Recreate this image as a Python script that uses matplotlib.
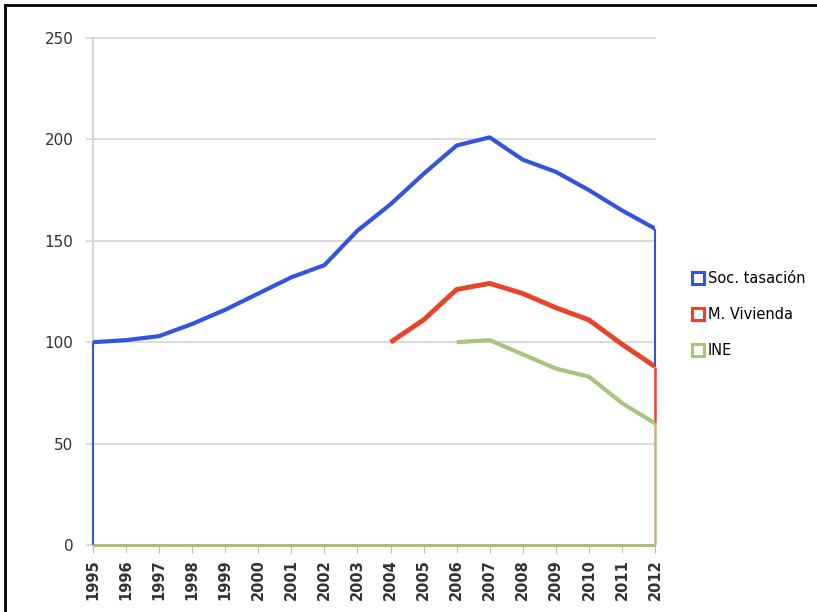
import matplotlib.pyplot as plt
from matplotlib.lines import Line2D

# datos
years = list(range(1995, 2013))
soc_tasacion = [100, 101, 103, 109, 116, 124, 132, 138, 155, 168, 183, 197, 201, 190, 184, 175, 165, 156]
m_vivienda_years = list(range(2004, 2013))
m_vivienda = [100, 111, 126, 129, 124, 117, 111, 99, 88]
ine_years = list(range(2006, 2013))
ine = [100, 101, 94, 87, 83, 70, 60]

etiquetas = ['Soc. tasación', 'M. Vivienda', 'INE']
colores = ['#3355dd', '#e8442a', '#a9c47c']
yticks = [0, 50, 100, 150, 200, 250]

fig = plt.figure(figsize=(8.17, 6.12), dpi=100)
ax = fig.add_axes([93 / 817, 1 - 545 / 612, (655 - 93) / 817, (545 - 38) / 612])

# rejilla y ejes
for v in yticks:
    ax.axhline(v, color='#d8d8d8', lw=1.3, zorder=0, clip_on=False, xmin=-0.01)
for s in ['top', 'right', 'bottom']:
    ax.spines[s].set_visible(False)
ax.spines['left'].set_color('#d0d0d0')
ax.spines['left'].set_linewidth(1.3)
ax.spines['left'].set_zorder(1)

# contornos finos (bordes a cero)
ax.vlines(years[0], 0, soc_tasacion[0], color=colores[0], lw=1.5, zorder=3, clip_on=False)
ax.vlines(years[-1], m_vivienda[-1], soc_tasacion[-1], color=colores[0], lw=1.5, zorder=3, clip_on=False)
ax.vlines(years[-1], ine[-1], m_vivienda[-1], color=colores[1], lw=1.8, zorder=3, clip_on=False)
ax.vlines(years[-1], 0, ine[-1], color='#c4b47e', lw=1.8, zorder=3, clip_on=False)
ax.hlines(0, years[0], years[-1], color='#b9b878', lw=2.2, zorder=3, clip_on=False)

# series
ax.plot(years, soc_tasacion, color=colores[0], lw=3, zorder=4, solid_capstyle='butt')
ax.plot(m_vivienda_years, m_vivienda, color=colores[1], lw=3.5, zorder=4, solid_capstyle='butt')
ax.plot(ine_years, ine, color=colores[2], lw=3, zorder=4, solid_capstyle='butt')

ax.set_xlim(1995, 2012)
ax.set_ylim(0, 250)
ax.set_xticks(years)
ax.set_xticklabels([str(y) for y in years], rotation=90, fontsize=10.5,
                   fontweight='bold', color='#333333')
ax.set_yticks(yticks)
ax.set_yticklabels([str(v) for v in yticks], fontsize=11, color='#333333')
ax.tick_params(axis='y', length=0, pad=14)
ax.tick_params(axis='x', length=6, color='#bbbbbb', pad=4)

# leyenda
handles = [Line2D([], [], ls='none', marker='s', markersize=8, markerfacecolor='white',
                  markeredgecolor=c, markeredgewidth=2.2) for c in colores]
fig.legend(handles, etiquetas, loc='upper left', bbox_to_anchor=(690 / 817, 1 - 268 / 612),
           frameon=False, fontsize=10.5, handlelength=0.7, handletextpad=0.3,
           labelspacing=1.45, borderpad=0.2, borderaxespad=0)

# marco de la imagen
fig.add_artist(Line2D([5 / 817, 1], [1 - 5 / 612, 1 - 5 / 612], color='black', lw=2))
fig.add_artist(Line2D([5 / 817, 5 / 817], [0, 1 - 5 / 612], color='black', lw=2))

fig.savefig('out.png', dpi=100)
